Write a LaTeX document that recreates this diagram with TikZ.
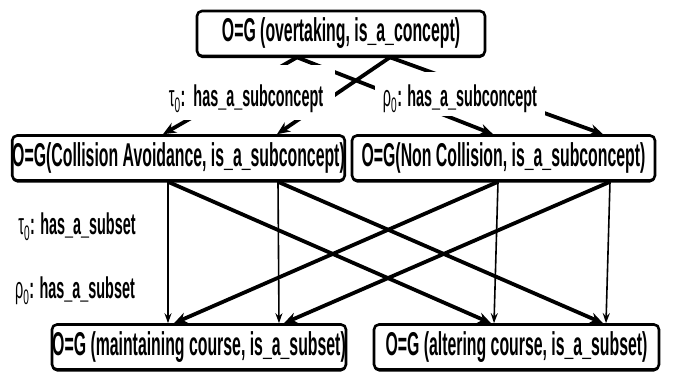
\documentclass[tikz,border=0pt]{standalone}
\usepackage{fontspec}
\setmainfont{Liberation Sans}[FakeStretch=0.48]
\usetikzlibrary{arrows.meta,shadows}
\pgfdeclarelayer{edgelayer}
\pgfdeclarelayer{nodelayer}
\pgfsetlayers{edgelayer,nodelayer,main}
\tikzstyle{box}=[draw=black, fill=white, rounded corners=5pt, line width=2.6pt, minimum height=45pt, inner sep=0pt, font=\fontsize{33}{35}\selectfont\bfseries, drop shadow={shadow xshift=0pt, shadow yshift=-2pt, fill=black, opacity=1}]
\tikzstyle{relname}=[fill=white, inner sep=1pt, font=\fontsize{30}{32}\selectfont\bfseries]
\tikzstyle{thinedge}=[draw=black, line width=1.6pt, -{Stealth[length=10pt, width=7pt]}]
\tikzstyle{thickedge}=[draw=black, line width=3.8pt, -{Stealth[length=13pt, width=11pt]}]

\begin{document}
\begin{tikzpicture}[x=1pt, y=-1pt]
	\useasboundingbox (0, 0) rectangle (683, 376);
	\begin{pgfonlayer}{nodelayer}
		\node [style=box, minimum width=288pt] (ovt) at (341, 33.5) {O=G (overtaking, is\_a\_concept)};
		\node [style=box, minimum width=329pt] (colav) at (178.5, 158) {O=G(Collision Avoidance, is\_a\_subconcept)};
		\node [style=box, minimum width=303pt] (noncol) at (503.5, 158) {O=G(Non Collision, is\_a\_subconcept)};
		\node [style=box, minimum width=294pt] (maint) at (199, 347) {O=G (maintaining course, is\_a\_subset)};
		\node [style=box, minimum width=285pt] (alter) at (516.5, 347) {O=G (altering course, is\_a\_subset)};
		\node [style=relname, anchor=base, inner xsep=12pt, text height=40pt, text depth=13pt] (tausc) at (246, 106) {{\mdseries τ\textsubscript{0}}:\ \ has\_a\_subconcept};
		\node [style=relname, anchor=base, inner xsep=8pt, text height=33pt, text depth=9pt] (rhosc) at (460, 106) {{\mdseries ρ\textsubscript{0}}: has\_a\_subconcept};
		\node [style=relname] (tauss) at (77, 227) {{\mdseries τ\textsubscript{0}}: has\_a\_subset};
		\node [style=relname] (rhoss) at (75, 291) {{\mdseries ρ\textsubscript{0}}: has\_a\_subset};
	\end{pgfonlayer}
	% end points on the box borders
	\coordinate (ovt-s1) at ([xshift=-44pt]ovt.south);
	\coordinate (ovt-s2) at ([xshift=49pt]ovt.south);
	\coordinate (colav-n1) at ([xshift=-15.5pt]colav.north);
	\coordinate (colav-n2) at ([xshift=98.5pt]colav.north);
	\coordinate (colav-s1) at ([xshift=-10.5pt]colav.south);
	\coordinate (colav-s2) at ([xshift=99.5pt]colav.south);
	\coordinate (noncol-n1) at ([xshift=-10.5pt]noncol.north);
	\coordinate (noncol-n2) at ([xshift=99.5pt]noncol.north);
	\coordinate (noncol-s1) at ([xshift=-5.5pt]noncol.south);
	\coordinate (noncol-s2) at ([xshift=106.5pt]noncol.south);
	\coordinate (maint-n1) at ([xshift=-31pt]maint.north);
	\coordinate (maint-n2) at ([xshift=-25pt]maint.north);
	\coordinate (maint-n3) at ([xshift=80pt]maint.north);
	\coordinate (maint-n4) at ([xshift=85pt]maint.north);
	\coordinate (alter-n1) at ([xshift=-25.5pt]alter.north);
	\coordinate (alter-n2) at ([xshift=-22.5pt]alter.north);
	\coordinate (alter-n3) at ([xshift=86.5pt]alter.north);
	\coordinate (alter-n4) at ([xshift=89.5pt]alter.north);
	\begin{pgfonlayer}{edgelayer}
		\draw [style=thickedge] (ovt-s1) to (colav-n1);
		\draw [style=thickedge] (ovt-s1) to (noncol-n1);
		\draw [style=thickedge] (ovt-s2) to (colav-n2);
		\draw [style=thickedge] (ovt-s2) to (noncol-n2);
		\draw [style=thinedge] (colav-s1) to (maint-n1);
		\draw [style=thinedge] (colav-s2) to (maint-n3);
		\draw [style=thinedge] (noncol-s1) to (alter-n2);
		\draw [style=thinedge] (noncol-s2) to (alter-n4);
		\draw [style=thickedge] (colav-s1) to (alter-n1);
		\draw [style=thickedge] (colav-s2) to (alter-n3);
		\draw [style=thickedge] (noncol-s1) to (maint-n2);
		\draw [style=thickedge] (noncol-s2) to (maint-n4);
	\end{pgfonlayer}
\end{tikzpicture}
\end{document}
